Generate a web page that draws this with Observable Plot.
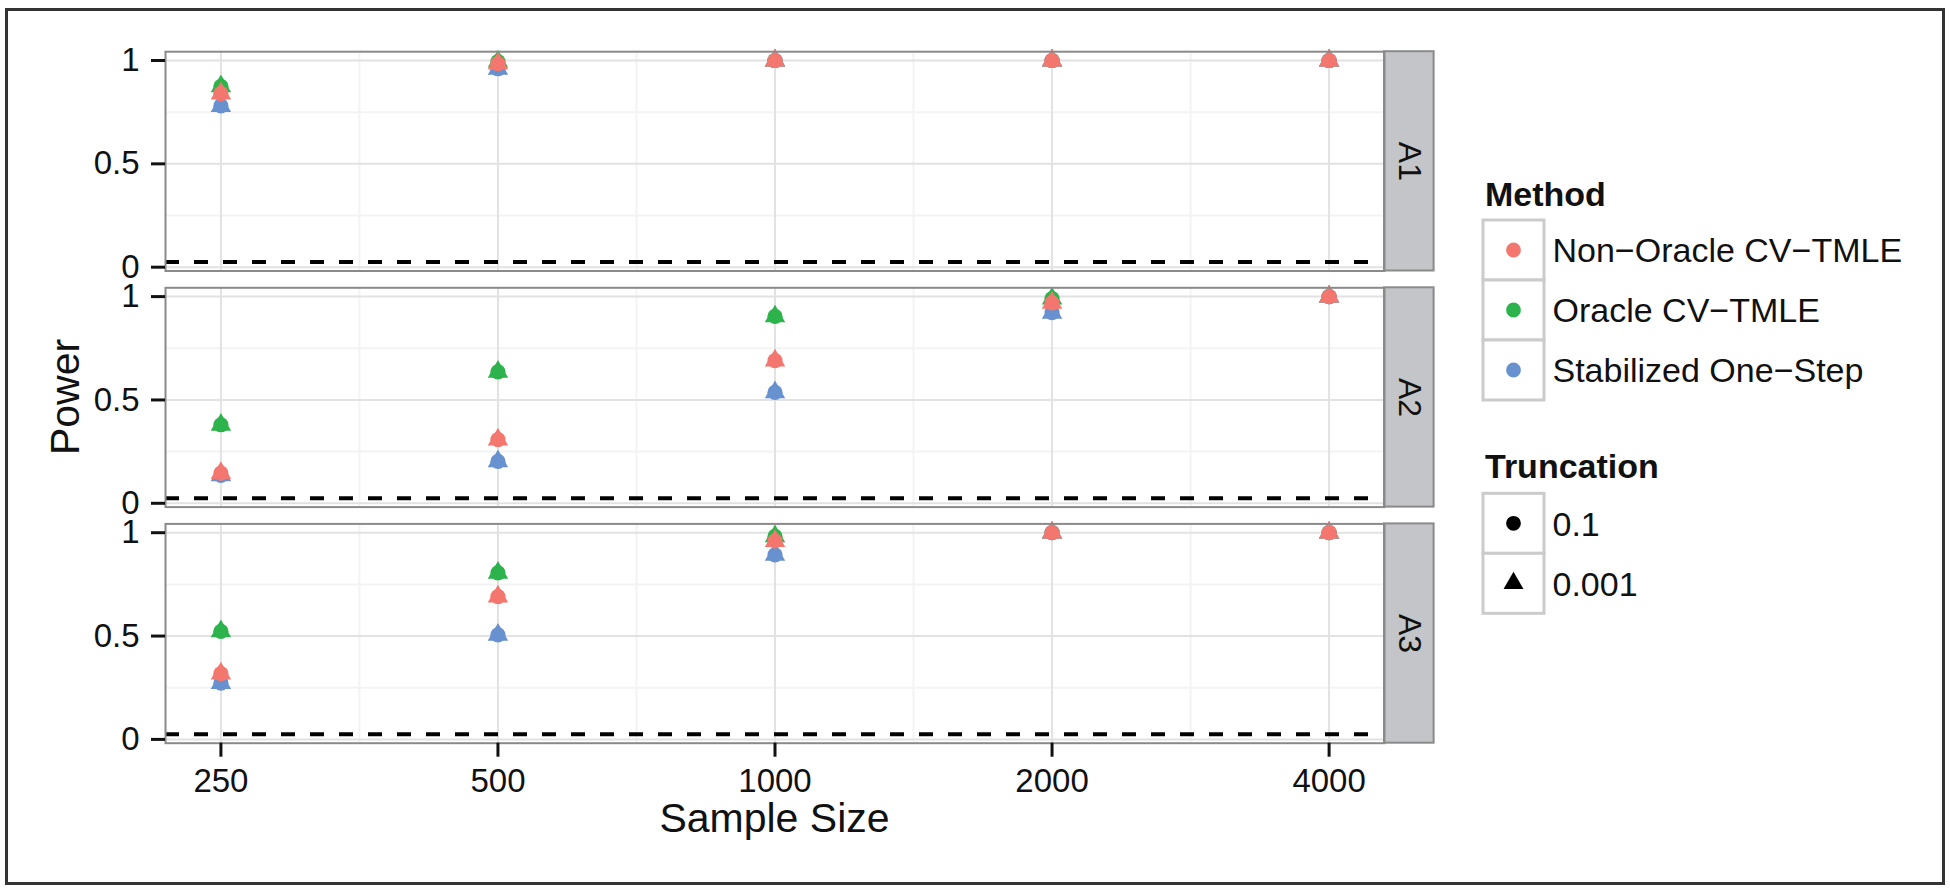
<!DOCTYPE html>
<html>
<head>
<meta charset="utf-8">
<script src="https://cdn.jsdelivr.net/npm/d3@7"></script>
<script src="https://cdn.jsdelivr.net/npm/@observablehq/plot@0.6"></script>
<style>
  html, body { margin: 0; padding: 0; background: #fff; }
  #wrap { position: relative; width: 1950px; height: 889px; overflow: hidden; font-family: "Liberation Sans", Arial, sans-serif; }
  #chart, #overlay, #frame { position: absolute; left: 0; top: 0; }
  #frame { left: 5px; top: 8px; width: 1940px; height: 877px; border: 3px solid #333; box-sizing: border-box; pointer-events: none; }
  #overlay { pointer-events: none; }
</style>
</head>
<body>
<div id="wrap">
  <div id="chart"></div>
  <div id="frame"></div>
  <svg id="overlay" width="1950" height="889"></svg>
</div>
<script>
// ---------------- data ----------------
const panels = ["A1", "A2", "A3"];
const sampleSizes = [250, 500, 1000, 2000, 4000];
const methods = ["Non\u2212Oracle CV\u2212TMLE", "Oracle CV\u2212TMLE", "Stabilized One\u2212Step"];
const methodColors = ["#F3776F", "#2DB34B", "#6891CF"];
const truncations = ["0.1", "0.001"];
const yTicks = [0, 0.5, 1];
const nominalLevel = 0.025;

// power at sample sizes 250, 500, 1000, 2000, 4000 (both truncation levels overlap in the picture)
const nonOracleA1 = [0.840, 0.985, 1.000, 1.000, 1.000];
const oracleA1    = [0.875, 0.995, 1.000, 1.000, 1.000];
const stabA1      = [0.780, 0.960, 1.000, 1.000, 1.000];

const nonOracleA2 = [0.146, 0.308, 0.690, 0.970, 1.000];
const oracleA2    = [0.380, 0.636, 0.904, 0.990, 1.000];
const stabA2      = [0.135, 0.203, 0.537, 0.922, 1.000];

const nonOracleA3 = [0.318, 0.691, 0.960, 1.000, 1.000];
const oracleA3    = [0.523, 0.806, 0.982, 1.000, 1.000];
const stabA3      = [0.272, 0.506, 0.893, 1.000, 1.000];

// draw order: Oracle, Stabilized, Non-Oracle (red on top)
const series = [
  {method: methods[1], A1: oracleA1, A2: oracleA2, A3: oracleA3},
  {method: methods[2], A1: stabA1, A2: stabA2, A3: stabA3},
  {method: methods[0], A1: nonOracleA1, A2: nonOracleA2, A3: nonOracleA3}
];
const rows = [];
for (const s of series)
  for (const truncation of truncations)
    for (const panel of panels)
      sampleSizes.forEach((n, i) => rows.push({panel, method: s.method, truncation, n, power: s[panel][i]}));

// ---------------- chart ----------------
const xDomain = [sampleSizes[0] / 2 ** 0.2, sampleSizes[sampleSizes.length - 1] * 2 ** 0.2];
const yDomain = [-0.0184, 1.0426];
const minorX = d3.pairs(sampleSizes, (a, b) => Math.sqrt(a * b));
const minorY = d3.pairs(yTicks, (a, b) => (a + b) / 2);

const chart = Plot.plot({
  width: 1950,
  height: 889,
  marginLeft: 165,
  marginRight: 566,
  marginTop: 51.2,
  marginBottom: 146.3,
  style: {fontFamily: '"Liberation Sans", Arial, sans-serif', background: "transparent", color: "#111"},
  x: {type: "log", domain: xDomain},
  y: {domain: yDomain},
  fy: {domain: panels, axis: null, padding: 0.0712, round: false},
  color: {domain: methods, range: methodColors},
  symbol: {domain: truncations, range: ["circle", "triangle"]},
  marks: [
    Plot.ruleY(minorY, {stroke: "#f3f3f3", strokeWidth: 2}),
    Plot.ruleX(minorX, {stroke: "#f3f3f3", strokeWidth: 2}),
    Plot.ruleY(yTicks, {stroke: "#e2e2e2", strokeWidth: 2}),
    Plot.ruleX(sampleSizes, {stroke: "#e2e2e2", strokeWidth: 2}),
    Plot.dot(rows, {x: "n", y: "power", fy: "panel", fill: "method", symbol: "truncation", r: 7.6}),
    Plot.ruleY([nominalLevel], {stroke: "#000", strokeWidth: 4, strokeDasharray: "14,15"}),
    Plot.rect(panels, {fy: d => d, x1: xDomain[1], x2: xDomain[1], y1: yDomain[0], y2: yDomain[1],
      insetRight: -49.6, fill: "#c4c5c9", stroke: "#8a8a8a", strokeWidth: 2}),
    Plot.text(panels, {fy: d => d, x: xDomain[1], y: (yDomain[0] + yDomain[1]) / 2, text: d => d,
      dx: 25, rotate: 90, fontSize: 32, fill: "#111"}),
    Plot.frame({stroke: "#8a8a8a", strokeWidth: 2}),
    Plot.axisY({ticks: yTicks, tickFormat: d => String(d), tickSize: 14, tickPadding: 12,
      fontSize: 33, strokeWidth: 3, color: "#111", label: null}),
    Plot.axisX({ticks: sampleSizes, tickFormat: d => String(d), tickSize: 14, tickPadding: 11,
      fontSize: 33, strokeWidth: 3, color: "#111", label: null})
  ]
});
document.getElementById("chart").appendChild(chart);

// ---------------- titles & legend ----------------
const ov = d3.select("#overlay")
  .attr("font-family", '"Liberation Sans", Arial, sans-serif')
  .attr("fill", "#111");

ov.append("text").attr("x", 774.5).attr("y", 832).attr("text-anchor", "middle")
  .attr("font-size", 41).text("Sample Size");
ov.append("text").attr("transform", "translate(79,397) rotate(-90)").attr("text-anchor", "middle")
  .attr("font-size", 41).text("Power");

const keyX = 1483, keyW = 61, keyH = 60, labelX = 1552.5, titleX = 1485;
const r = 7.4;

function legendBlock(title, titleBaseline, keyTop, items) {
  ov.append("text").attr("x", titleX).attr("y", titleBaseline).attr("font-size", 34)
    .attr("font-weight", "bold").text(title);
  items.forEach((it, i) => {
    const y0 = keyTop + i * keyH;
    const cy = y0 + keyH / 2;
    ov.append("rect").attr("x", keyX).attr("y", y0).attr("width", keyW).attr("height", keyH)
      .attr("fill", "#fff").attr("stroke", "#cbcbcb").attr("stroke-width", 3);
    ov.append("path")
      .attr("transform", `translate(${keyX + keyW / 2},${cy})`)
      .attr("d", d3.symbol(it.symbol, Math.PI * r * r)())
      .attr("fill", it.color);
    ov.append("text").attr("x", labelX).attr("y", cy + 12.2).attr("font-size", 34).text(it.label);
  });
}

legendBlock("Method", 205.7, 220,
  methods.map((m, i) => ({label: m, color: methodColors[i], symbol: d3.symbolCircle})));
legendBlock("Truncation", 478.3, 493.3,
  truncations.map((t, i) => ({label: t, color: "#000", symbol: i === 0 ? d3.symbolCircle : d3.symbolTriangle})));
</script>
</body>
</html>
